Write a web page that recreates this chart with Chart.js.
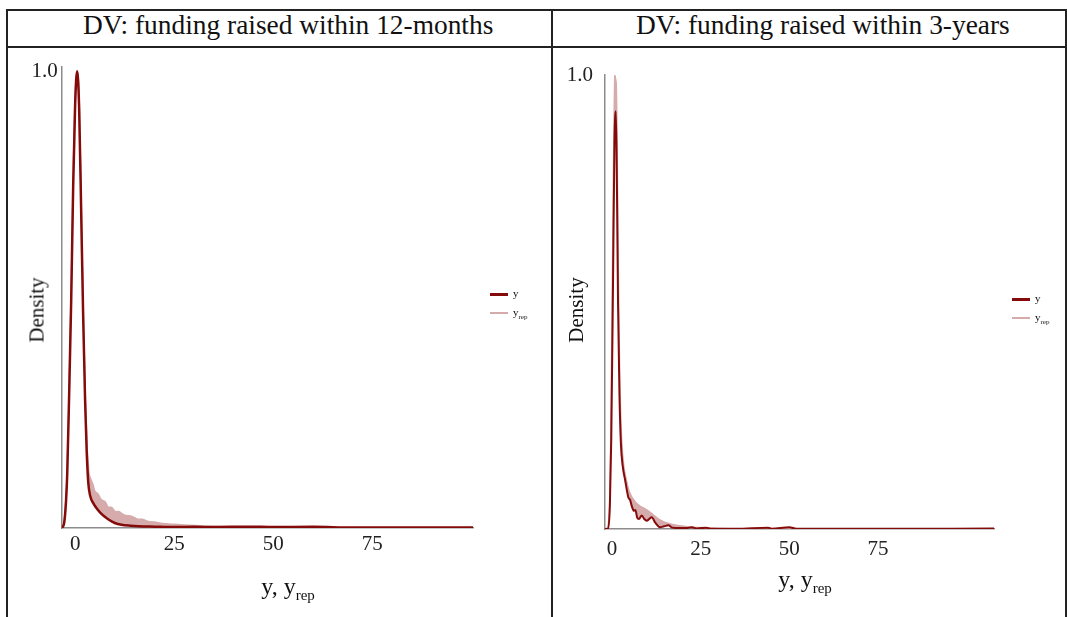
<!DOCTYPE html>
<html>
<head>
<meta charset="utf-8">
<script src="https://cdn.jsdelivr.net/npm/chart.js@4.4.1/dist/chart.umd.min.js"></script>
<style>
  html, body { margin: 0; padding: 0; background: #fff; }
  body { width: 1067px; height: 617px; position: relative; overflow: hidden; font-family: "Liberation Serif", "DejaVu Serif", serif; color: #111; }
  .frame { position: absolute; left: 6px; top: 9px; width: 1057px; height: 700px; border: 2px solid #222; }
  .hline { position: absolute; left: 6px; top: 46px; width: 1060px; height: 2px; background: #222; }
  .vline { position: absolute; left: 551px; top: 9px; width: 2px; height: 700px; background: #222; }
  .head { position: absolute; top: 10px; font-size: 27.4px; white-space: nowrap; }
  .box { position: absolute; }
  .ytitle { position: absolute; font-size: 21px; transform: translate(-50%, -50%) rotate(-90deg); white-space: nowrap; }
  .xtitle { position: absolute; font-size: 24px; white-space: nowrap; transform: translateX(-50%); }
  .xtitle sub { font-size: 15px; }
  .leg { position: absolute; font-size: 11px; line-height: 10px; }
  .leg .row { position: relative; height: 19px; }
  .leg .sw { position: absolute; top: 3px; width: 18px; }
  .leg .tx { position: absolute; left: 23px; top: -2px; white-space: nowrap; }
  .leg sub { font-size: 7px; }
</style>
</head>
<body>
<div class="frame"></div>
<div class="hline"></div>
<div class="vline"></div>
<div class="head" style="left:83px">DV: funding raised within 12-months</div>
<div class="head" style="left:636px">DV: funding raised within 3-years</div>

<div class="box" style="left:8px;top:50px;width:543px;height:567px"><canvas id="chart12"></canvas></div>
<div class="box" style="left:553px;top:50px;width:511px;height:567px"><canvas id="chart3"></canvas></div>

<div class="ytitle" style="left:37px;top:310px">Density</div>
<div class="ytitle" style="left:576px;top:310px">Density</div>
<div class="xtitle" style="left:288px;top:573px">y, y<sub>rep</sub></div>
<div class="xtitle" style="left:805px;top:566px">y, y<sub>rep</sub></div>

<div class="leg" style="left:490px;top:290px">
  <div class="row"><div class="sw" style="height:3px;background:#850a0a"></div><div class="tx">y</div></div>
  <div class="row"><div class="sw" style="height:2px;background:#d5abab"></div><div class="tx">y<sub>rep</sub></div></div>
</div>
<div class="leg" style="left:1012px;top:295px">
  <div class="row"><div class="sw" style="height:3px;background:#850a0a"></div><div class="tx">y</div></div>
  <div class="row"><div class="sw" style="height:2px;background:#d5abab"></div><div class="tx">y<sub>rep</sub></div></div>
</div>

<script>
// x tick labels shown on both panels
var xTicks = [0, 25, 50, 75]

// 12-months panel: observed density y
var y12X = [-3.4, -2.8, -2.3, -2.0, -1.5, -1.0, -0.5, 0, 0.5, 1.0, 1.5, 2.0, 2.5, 2.9, 3.3, 3.8, 4.6, 5.5, 6.5, 7.4, 8.5, 10, 11.7, 14, 16, 20, 25, 30, 35, 44, 50, 60, 70, 80, 100.4]
var y12D = [0, 0.01, 0.06, 0.12, 0.3, 0.5, 0.75, 0.93, 1.0, 0.92, 0.7, 0.47, 0.28, 0.17, 0.1, 0.07, 0.054, 0.042, 0.032, 0.025, 0.018, 0.011, 0.007, 0.005, 0.004, 0.003, 0.002, 0.0025, 0.002, 0.003, 0.002, 0.0025, 0.001, 0.001, 0.001]
// 12-months panel: upper edge of replicated densities y_rep
var rep12X = [-3.4, -2.8, -2.3, -2.0, -1.5, -1.0, -0.5, 0, 0.5, 1.0, 1.5, 2.0, 2.5, 3.0, 3.3, 3.6, 4.5, 5.0, 5.8, 6.6, 7.5, 8.3, 9.2, 10.1, 11, 12.5, 14.2, 15.5, 17, 18.5, 20, 22, 25, 28.4, 33, 40, 50, 60, 100.4]
var rep12D = [0, 0.015, 0.07, 0.13, 0.32, 0.52, 0.77, 0.95, 1.0, 0.94, 0.72, 0.5, 0.31, 0.18, 0.14, 0.115, 0.095, 0.08, 0.074, 0.062, 0.058, 0.046, 0.045, 0.036, 0.036, 0.028, 0.026, 0.02, 0.019, 0.014, 0.013, 0.01, 0.008, 0.006, 0.004, 0.003, 0.0012, 0.0005, 0]

// 3-years panel: observed density y
var y3X = [-2, -1.1, -0.6, -0.2, 0.3, 0.7, 1.1, 1.4, 1.7, 2.1, 2.5, 3.0, 3.7, 4.6, 5.1, 5.6, 6.2, 6.6, 7.1, 7.6, 8.4, 9.1, 9.8, 10.5, 11.2, 12.2, 13.5, 14.7, 15.9, 17, 19, 21, 22.5, 24, 26.5, 28, 35, 44, 45, 50, 52, 70, 107.7]
var y3D = [0, 0, 0.05, 0.2, 0.55, 0.85, 0.92, 0.75, 0.5, 0.3, 0.19, 0.14, 0.108, 0.07, 0.064, 0.05, 0.04, 0.042, 0.025, 0.022, 0.03, 0.022, 0.018, 0.022, 0.026, 0.014, 0.004, 0.006, 0.008, 0.003, 0.002, 0.002, 0.004, 0.001, 0.003, 0.0005, 0.0005, 0.003, 0.0005, 0.004, 0.0005, 0.0005, 0.001]
// 3-years panel: upper edge of replicated densities y_rep
var rep3X = [-2, -1.1, -0.6, -0.2, 0.3, 0.8, 1.2, 1.5, 1.8, 2.2, 2.7, 3.3, 4, 5, 6.5, 8, 9.8, 11.5, 13.5, 16, 19, 22.8, 26, 30, 40, 107.7]
var rep3D = [0, 0.005, 0.08, 0.3, 0.7, 1.0, 0.98, 0.8, 0.55, 0.33, 0.2, 0.14, 0.11, 0.08, 0.06, 0.05, 0.042, 0.032, 0.02, 0.012, 0.007, 0.004, 0.003, 0.001, 0.0005, 0]

var darkRed = '#850a0a'
var lightRed = '#d5abab'
var axisGrey = '#8c8c8c'
var tickFont = { family: 'Liberation Serif', size: 21 }

function toPoints(xs, ys) {
  return xs.map((x, i) => ({ x: x, y: ys[i] }))
}

function makeChart(id, opt) {
  var ctx = document.getElementById(id).getContext('2d')
  return new Chart(ctx, {
    type: 'line',
    data: {
      datasets: [
        {
          label: 'y_rep',
          data: toPoints(opt.repX, opt.repD),
          borderColor: lightRed,
          backgroundColor: lightRed,
          borderWidth: 1.5,
          pointRadius: 0,
          tension: 0.3,
          order: 2,
          fill: 1
        },
        {
          label: 'y',
          data: toPoints(opt.yX, opt.yD),
          borderColor: darkRed,
          borderWidth: opt.lineW,
          pointRadius: 0,
          tension: 0.3,
          cubicInterpolationMode: 'monotone',
          order: 1,
          fill: false
        }
      ]
    },
    options: {
      responsive: true,
      maintainAspectRatio: false,
      animation: false,
      events: [],
      layout: { padding: { top: opt.padTop, right: opt.padRight, left: 0, bottom: 0 } },
      plugins: { legend: { display: false }, tooltip: { enabled: false } },
      scales: {
        x: {
          type: 'linear',
          min: opt.xMin,
          max: opt.xMax,
          afterBuildTicks: (axis) => { axis.ticks = xTicks.map(v => ({ value: v })) },
          afterFit: (axis) => { axis.height = opt.xH },
          grid: { display: false, drawTicks: false, tickLength: 0 },
          border: { display: true, color: axisGrey, width: 1.5 },
          ticks: { font: tickFont, color: '#222', padding: opt.xPad, maxRotation: 0, callback: (v) => String(v) }
        },
        y: {
          min: 0,
          max: opt.yMax,
          afterBuildTicks: (axis) => { axis.ticks = [{ value: 1 }] },
          afterFit: (axis) => { axis.width = opt.yW },
          grid: { display: false, drawTicks: false, tickLength: 0 },
          border: { display: true, color: axisGrey, width: 1.5 },
          ticks: { font: tickFont, color: '#222', padding: opt.yPad, callback: (v) => v.toFixed(1) }
        }
      }
    }
  })
}

makeChart('chart12', {
  yX: y12X, yD: y12D, repX: rep12X, repD: rep12D,
  xMin: -3.4, xMax: 100.4, yMax: 1.01, lineW: 2.5,
  padTop: 12, padRight: 78, xH: 89, yW: 53.7, yPad: 4, xPad: 4
})

makeChart('chart3', {
  yX: y3X, yD: y3D, repX: rep3X, repD: rep3D,
  xMin: -1.97, xMax: 107.7, yMax: 1.0, lineW: 2,
  padTop: 25, padRight: 70, xH: 88, yW: 52, yPad: 12, xPad: 8
})
</script>
</body>
</html>
